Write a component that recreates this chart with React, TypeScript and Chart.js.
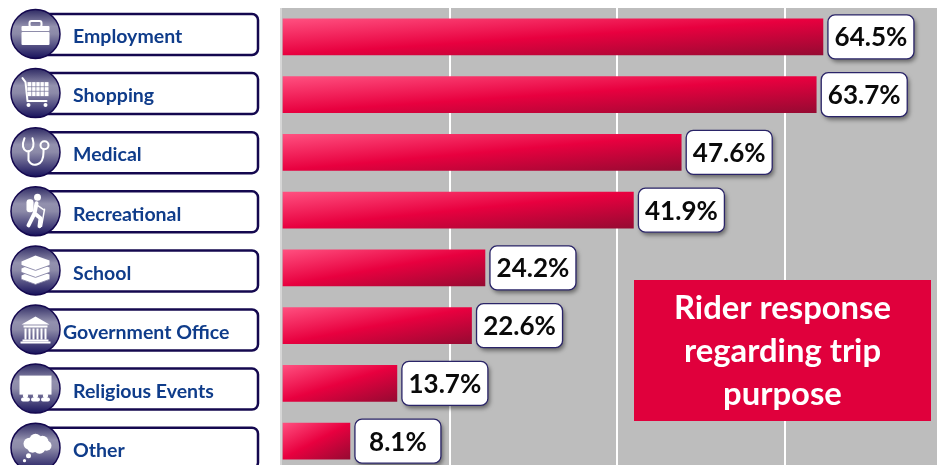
import React, { useEffect, useRef } from "react";
import { Chart, registerables } from "chart.js";

Chart.register(...registerables);

const categories = ["Employment", "Shopping", "Medical", "Recreational", "School", "Government Office", "Religious Events", "Other"];
const values = [64.5, 63.7, 47.6, 41.9, 24.2, 22.6, 13.7, 8.1];
const xTicks = [0, 20, 40, 60];
const noteLines = ["Rider response", "regarding trip", "purpose"];
const FONT = "Lato, Carlito, 'Open Sans', sans-serif";

function rr(c: CanvasRenderingContext2D, x: number, y: number, w: number, h: number, r: number) {
  c.beginPath();
  c.roundRect(x, y, w, h, r);
}

function drawIcon(c: CanvasRenderingContext2D, i: number, cx: number, cy: number) {
  c.save();
  c.translate(cx, cy);
  c.fillStyle = "#fff";
  c.strokeStyle = "#fff";
  c.lineCap = "round";
  c.lineJoin = "round";
  if (i === 0) {
    rr(c, -14, -8, 28, 5, 1); c.fill();
    rr(c, -14, -2, 28, 13, 1); c.fill();
    c.lineWidth = 2; rr(c, -6, -13, 12, 6, 2); c.stroke();
  } else if (i === 1) {
    c.lineWidth = 2;
    c.beginPath(); c.moveTo(-13, -15); c.lineTo(-10, -11); c.lineTo(-8, 8); c.lineTo(11, 8); c.stroke();
    c.fillRect(-8, -11, 21, 14);
    c.strokeStyle = "#77759a"; c.lineWidth = 0.7;
    for (let k = 1; k < 5; k++) { c.beginPath(); c.moveTo(-8 + k * 4.2, -11); c.lineTo(-8 + k * 4.2, 3); c.stroke(); }
    for (let k = 1; k < 3; k++) { c.beginPath(); c.moveTo(-8, -11 + k * 4.6); c.lineTo(13, -11 + k * 4.6); c.stroke(); }
    c.beginPath(); c.arc(-7, 12, 2, 0, 7); c.fill();
    c.beginPath(); c.arc(10, 12, 2, 0, 7); c.fill();
  } else if (i === 2) {
    c.lineWidth = 2;
    c.beginPath(); c.moveTo(-11, -14); c.quadraticCurveTo(-15, -4, -9, -1); c.lineTo(-6, -1); c.quadraticCurveTo(0, -4, -3, -14); c.stroke();
    c.beginPath(); c.moveTo(-7, -1); c.lineTo(-7, 8); c.quadraticCurveTo(-4, 14, 2, 12); c.quadraticCurveTo(8, 10, 8, 0); c.lineTo(8, -3); c.stroke();
    c.beginPath(); c.arc(9, -7, 4, 0, 7); c.stroke();
  } else if (i === 3) {
    c.beginPath(); c.arc(2, -14, 3.5, 0, 7); c.fill();
    rr(c, -9, -12, 7, 13, 3); c.fill();
    c.lineWidth = 4;
    c.beginPath(); c.moveTo(1, -8); c.lineTo(-1, 2); c.lineTo(-7, 14); c.moveTo(-1, 2); c.lineTo(5, 7); c.lineTo(4, 15); c.stroke();
    c.lineWidth = 1.5;
    c.beginPath(); c.moveTo(2, -6); c.lineTo(9, -1); c.moveTo(9, -2); c.lineTo(6, 15); c.stroke();
  } else if (i === 4) {
    for (const dy of [8, 1, -6]) {
      c.beginPath(); c.moveTo(-14, dy - 3); c.lineTo(0, dy - 9); c.lineTo(14, dy - 4); c.lineTo(14, dy + 1); c.lineTo(0, dy + 6); c.lineTo(-14, dy + 1); c.closePath();
      c.fill();
      c.strokeStyle = "#77759a"; c.lineWidth = 0.8;
      c.beginPath(); c.moveTo(-14, dy + 1); c.lineTo(0, dy + 6); c.lineTo(14, dy + 1); c.stroke();
    }
  } else if (i === 5) {
    c.beginPath(); c.moveTo(0, -13); c.lineTo(14, -5); c.lineTo(-14, -5); c.closePath(); c.fill();
    c.fillRect(-12, -4, 24, 2);
    for (let k = 0; k < 6; k++) c.fillRect(-11 + k * 4, -1, 2, 11);
    c.fillRect(-13, 10, 26, 2);
    c.fillRect(-15, 12, 30, 2);
  } else if (i === 6) {
    c.fillRect(-16, -13, 32, 19);
    for (const dx of [-10, 0, 10]) {
      c.beginPath(); c.arc(dx, 7, 2.6, 0, 7); c.fill();
      rr(c, dx - 4.5, 9, 9, 4, 2); c.fill();
    }
  } else {
    for (const [ax, ay, r] of [[-6, -4, 6], [0, -8, 6], [7, -6, 6], [11, -2, 5], [4, 0, 6], [-3, 0, 5]]) {
      c.beginPath(); c.arc(ax, ay, r, 0, 7); c.fill();
    }
    c.beginPath(); c.arc(-7, 8, 2.5, 0, 7); c.fill();
    c.beginPath(); c.arc(-11, 13, 1.6, 0, 7); c.fill();
  }
  c.restore();
}

const decor = {
  id: "decor",
  beforeDraw(chart: any) {
    const c = chart.ctx as CanvasRenderingContext2D;
    const a = chart.chartArea;
    c.save();
    c.fillStyle = "#bdbdbd";
    c.fillRect(a.left - 2, a.top, a.right - a.left + 2, 500 - a.top);
    c.fillStyle = "#d6d6d6";
    c.fillRect(a.left - 2, a.top, 2, 500 - a.top);
    c.restore();
  },
  afterDatasetsDraw(chart: any) {
    const c = chart.ctx as CanvasRenderingContext2D;
    const xs = chart.scales.x;
    const ys = chart.scales.y;
    c.save();
    categories.forEach((name, i) => {
      const y = ys.getPixelForValue(i);
      const bx = xs.getPixelForValue(values[i]) + 5;
      c.save();
      c.shadowColor = "rgba(0,0,0,0.45)";
      c.shadowBlur = 4;
      c.shadowOffsetX = 2;
      c.shadowOffsetY = 3;
      rr(c, bx, y - 22, 86, 44, 7);
      c.fillStyle = "#fff";
      c.fill();
      c.restore();
      rr(c, bx, y - 22, 86, 44, 7);
      c.strokeStyle = "#2a2468";
      c.lineWidth = 1.3;
      c.stroke();
      c.fillStyle = "#0a0a0a";
      c.font = `bold 26px ${FONT}`;
      c.textAlign = "center";
      c.textBaseline = "middle";
      c.fillText(values[i].toFixed(1) + "%", bx + 43, y + 1);

      // The category tags sit on their own, slightly wider rhythm than the bars.
      const py = 34.5 + 59.1 * i;
      rr(c, 38, py - 20.5, 220, 41, 6);
      c.fillStyle = "#fff";
      c.fill();
      c.strokeStyle = "#14084f";
      c.lineWidth = 2.5;
      c.stroke();
      const cx = 35.5, cy = py - 0.5;
      const g = c.createLinearGradient(0, cy - 25, 0, cy + 25);
      g.addColorStop(0, "#2c2862");
      g.addColorStop(0.35, "#9391ae");
      g.addColorStop(0.5, "#8c8aa8");
      g.addColorStop(1, "#16105a");
      c.beginPath();
      c.arc(cx, cy, 24.5, 0, Math.PI * 2);
      c.fillStyle = g;
      c.fill();
      c.strokeStyle = "#14084f";
      c.lineWidth = 1.5;
      c.stroke();
      drawIcon(c, i, cx, cy);
      c.fillStyle = "#0f3c8a";
      c.font = `bold 19.5px ${FONT}`;
      c.textAlign = "left";
      c.fillText(name, name === "Government Office" ? 63 : 73, py + 2.5);
    });
    c.fillStyle = "#e0003c";
    c.fillRect(634, 280, 297, 141);
    c.fillStyle = "#fff";
    c.font = `bold 32.8px ${FONT}`;
    c.textAlign = "center";
    c.textBaseline = "middle";
    noteLines.forEach((t, k) => c.fillText(t, 782.5, 308 + k * 43));
    c.restore();
  },
};

export default function App() {
  const ref = useRef<HTMLCanvasElement>(null);
  useEffect(() => {
    document.body.style.margin = "0";
    const chart = new Chart(ref.current!, {
      type: "bar",
      data: {
        labels: categories,
        datasets: [{
          data: values,
          barThickness: 36,
          borderWidth: 0,
          backgroundColor: (ctx: any) => {
            const ch = ctx.chart;
            const xs = ch.scales.x, ys = ch.scales.y;
            if (!xs || !ys || ctx.dataIndex === undefined) return "#e0003c";
            const y = ys.getPixelForValue(ctx.dataIndex);
            const x1 = xs.getPixelForValue(values[ctx.dataIndex]);
            const x0 = xs.getPixelForValue(0);
            if (![y, x0, x1].every(Number.isFinite)) return "#e0003c";
            const L = x1 - x0;
            const D = 1 / (1 / (4 * L * L) + 1 / (72 * 72));
            const g = ch.ctx.createLinearGradient(x0, y - 18, x0 + D / (2 * L), y - 18 + D / 72);
            g.addColorStop(0, "#ff5080");
            g.addColorStop(0.5, "#e8003f");
            g.addColorStop(1, "#960a32");
            return g;
          },
        }],
      },
      options: {
        indexAxis: "y",
        animation: false,
        responsive: false,
        layout: { padding: { left: 282, top: 8, right: 0, bottom: 30 } },
        plugins: { legend: { display: false }, tooltip: { enabled: false } },
        scales: {
          x: {
            min: 0,
            max: 78.1,
            afterBuildTicks: (s: any) => { s.ticks = xTicks.map((v) => ({ value: v })); },
            ticks: { display: false },
            border: { display: false },
            grid: { color: (c: any) => (c.tick && c.tick.value === 0 ? "rgba(0,0,0,0)" : "#ffffff"), lineWidth: 2, drawTicks: false },
          },
          y: {
            ticks: { display: false },
            border: { display: false },
            grid: { display: false, drawTicks: false },
          },
        },
      },
      plugins: [decor],
    } as any);
    return () => chart.destroy();
  }, []);
  return (
    <div style={{ width: 937, height: 465, overflow: "hidden", position: "relative", background: "#fff" }}>
      <canvas ref={ref} width={937} height={500} style={{ display: "block", width: 937, height: 500 }} />
    </div>
  );
}
